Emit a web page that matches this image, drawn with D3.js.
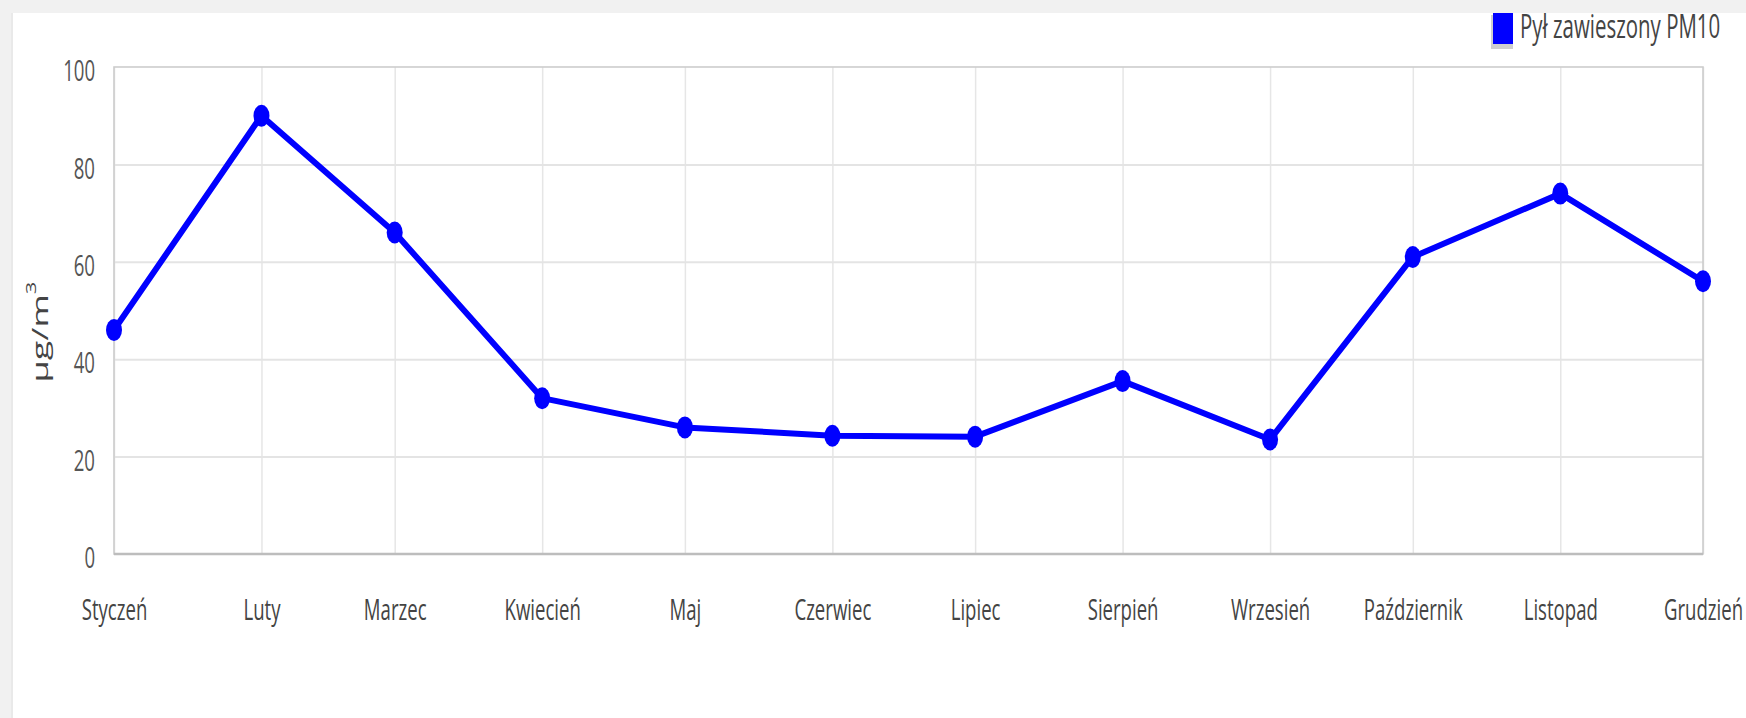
<!DOCTYPE html>
<html>
<head>
<meta charset="utf-8">
<script src="https://cdn.jsdelivr.net/npm/d3@7"></script>
<style>
  html, body { margin: 0; padding: 0; background: #fff; }
  svg { display: block; font-family: "Open Sans", sans-serif; }
</style>
</head>
<body>
<svg id="chart" width="1746" height="718"></svg>
<script>
// Monthly mean PM10 concentration
const year = 2019;
const months = ["Styczeń", "Luty", "Marzec", "Kwiecień", "Maj", "Czerwiec",
                "Lipiec", "Sierpień", "Wrzesień", "Październik", "Listopad", "Grudzień"];
const pm10 = [46, 90, 66, 32, 26, 24.3, 24.1, 35.5, 23.5, 61, 74, 56];
const yTicks = [0, 20, 40, 60, 80, 100];
const seriesName = "Pył zawieszony PM10";
const unitLabel = "μg/m";
const unitSup = "3";

const W = 1746, H = 718;
const margin = { left: 114, right: 43, top: 67, bottom: 164 };
const plotW = W - margin.left - margin.right;
const plotH = H - margin.top - margin.bottom;
const squeeze = 0.62;       // horizontal text compression
const lineColor = "#0000ff";

const data = months.map((m, i) => ({ month: m, date: new Date(Date.UTC(year, i, 1)), value: pm10[i] }));

const svg = d3.select("#chart");

// page frame
svg.append("rect").attr("x", 0).attr("y", 0).attr("width", W).attr("height", 13).attr("fill", "#f1f1f1");
svg.append("rect").attr("x", 0).attr("y", 0).attr("width", 11).attr("height", H).attr("fill", "#f1f1f1");
svg.append("line").attr("x1", 12).attr("x2", 12).attr("y1", 13).attr("y2", H)
  .attr("stroke", "#e2e2e2").attr("stroke-width", 1.5);

const x = d3.scaleUtc()
  .domain([data[0].date, data[data.length - 1].date])
  .range([0, plotW]);
const y = d3.scaleLinear().domain([0, 100]).range([plotH, 0]);

const g = svg.append("g").attr("transform", `translate(${margin.left},${margin.top})`);

// vertical grid
g.append("g")
  .attr("transform", `translate(0,${plotH})`)
  .call(d3.axisBottom(x).tickValues(data.map(d => d.date)).tickSize(-plotH).tickFormat(""))
  .call(a => a.select(".domain").remove())
  .call(a => a.selectAll("line").attr("stroke", "#e6e6e6").attr("stroke-width", 1.5));

// horizontal grid
g.append("g")
  .call(d3.axisLeft(y).tickValues(yTicks.filter(t => t > 0 && t < 100)).tickSize(-plotW).tickFormat(""))
  .call(a => a.select(".domain").remove())
  .call(a => a.selectAll("line").attr("stroke", "#e4e4e4").attr("stroke-width", 2));

// plot frame
g.append("rect").attr("x", 0).attr("y", 0).attr("width", plotW).attr("height", plotH)
  .attr("fill", "none").attr("stroke", "#cdcdcd").attr("stroke-width", 1.6);
g.append("line").attr("x1", 0).attr("x2", plotW).attr("y1", plotH).attr("y2", plotH)
  .attr("stroke", "#bdbdbd").attr("stroke-width", 2.5);

// y axis labels
g.append("g")
  .call(d3.axisLeft(y).tickValues(yTicks).tickSize(0).tickFormat(d3.format("d")))
  .call(a => a.select(".domain").remove())
  .call(a => a.selectAll("text")
    .attr("x", -19 / squeeze)
    .attr("y", 4)
    .attr("dy", "0.32em")
    .attr("transform", `scale(${squeeze},1)`)
    .attr("fill", "#555")
    .style("font-size", "30px")
    .style("font-family", "'Open Sans', sans-serif"));

// x axis labels
g.append("g")
  .attr("transform", `translate(0,${plotH})`)
  .call(d3.axisBottom(x).tickValues(data.map(d => d.date)).tickSize(0)
    .tickFormat((d, i) => months[i]))
  .call(a => a.select(".domain").remove())
  .call(a => a.selectAll("text")
    .attr("y", 66)
    .attr("dy", null)
    .attr("transform", `scale(${squeeze},1)`)
    .attr("fill", "#444")
    .style("font-size", "30px")
    .style("font-family", "'Open Sans', sans-serif"));

// y axis title
const title = svg.append("text")
  .attr("transform", `translate(48,${margin.top + 265}) scale(${squeeze},1) rotate(-90)`)
  .attr("text-anchor", "middle")
  .attr("fill", "#444")
  .style("font-size", "36px");
title.append("tspan").text(unitLabel);
title.append("tspan").attr("dy", -20).style("font-size", "22px").text(unitSup);

// series line
const line = d3.line().x(d => x(d.date)).y(d => y(d.value));
g.append("path")
  .datum(data)
  .attr("d", line)
  .attr("fill", "none")
  .attr("stroke", lineColor)
  .attr("stroke-width", 6)
  .attr("stroke-linejoin", "round");

// markers
g.selectAll("ellipse.pt")
  .data(data)
  .join("ellipse")
  .attr("class", "pt")
  .attr("cx", d => x(d.date))
  .attr("cy", d => y(d.value))
  .attr("rx", 8)
  .attr("ry", 11)
  .attr("fill", lineColor);

// legend
const lg = svg.append("g");
lg.append("rect").attr("x", 1491).attr("y", 15).attr("width", 22).attr("height", 34)
  .attr("fill", "#cfcfcf");
lg.append("rect").attr("x", 1493).attr("y", 13).attr("width", 20).attr("height", 31)
  .attr("fill", lineColor);
lg.append("text")
  .attr("transform", `translate(1520,38) scale(${squeeze},1)`)
  .attr("fill", "#444")
  .style("font-size", "33px")
  .text(seriesName);
</script>
</body>
</html>
